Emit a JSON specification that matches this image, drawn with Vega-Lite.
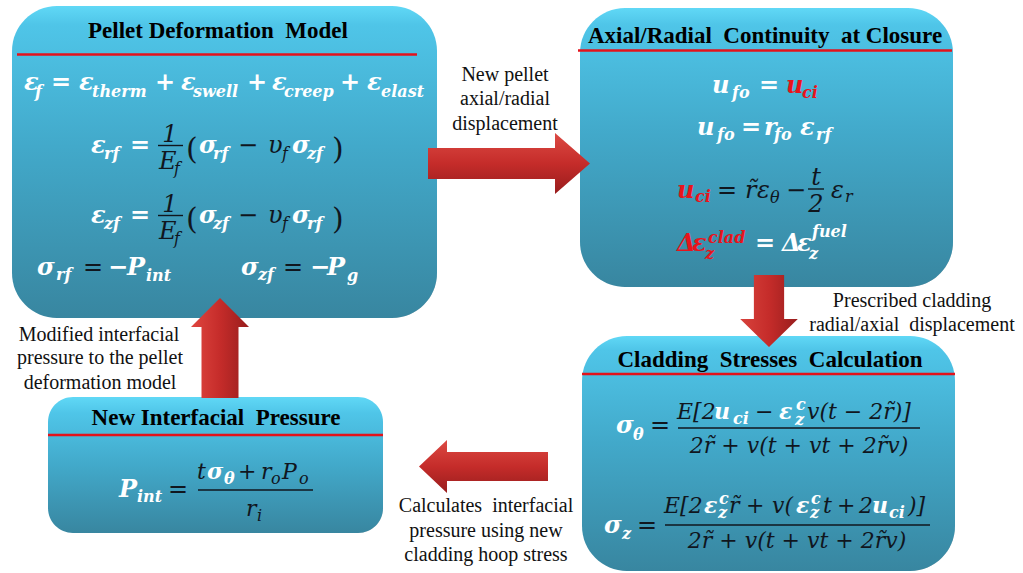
{
"$schema":"https://vega.github.io/schema/vega-lite/v6.json",
"width":1023,"height":573,"padding":0,"autosize":{"type":"none"},
"background":"white",
"config":{"view":{"stroke":null}},
"datasets":{
"boxes":[
{"x":12,"x2":437,"y":6,"y2":318,"k":"big"},
{"x":580,"x2":953,"y":8,"y2":287,"k":"big"},
{"x":582,"x2":955,"y":336,"y2":571,"k":"big"},
{"x":48,"x2":383,"y":397,"y2":533,"k":"small"}
],
"lines":[
{"x":17,"x2":417,"y":54.5,"k":"red"},
{"x":578,"x2":952,"y":50.5,"k":"red"},
{"x":582,"x2":955,"y":374,"k":"red"},
{"x":48,"x2":383,"y":435,"k":"red"},
{"x":158,"x2":183,"y":145.5,"k":"frac"},
{"x":158,"x2":183,"y":215.5,"k":"frac"},
{"x":808,"x2":824,"y":189,"k":"frac"},
{"x":678,"x2":920,"y":428,"k":"frac"},
{"x":665,"x2":930,"y":525,"k":"frac"},
{"x":198,"x2":313,"y":490,"k":"frac"}
],
"arrows":[
{"x":509,"y":163.5,"dir":"right"},
{"x":769,"y":311,"dir":"down"},
{"x":483.5,"y":466.5,"dir":"left"},
{"x":220,"y":348,"dir":"up"}
],
"txt":[
{"x":218,"y":38,"t":"Pellet Deformation\u00a0 Model","s":"title"},
{"x":765,"y":43,"t":"Axial/Radial\u00a0 Continuity\u00a0 at Closure","s":"title"},
{"x":770,"y":367,"t":"Cladding\u00a0 Stresses\u00a0 Calculation","s":"title"},
{"x":216,"y":425,"t":"New Interfacial\u00a0 Pressure","s":"title"},
{"x":505,"y":81,"t":"New pellet","s":"label"},
{"x":505,"y":105,"t":"axial/radial","s":"label"},
{"x":505,"y":130,"t":"displacement","s":"label"},
{"x":99,"y":341,"t":"Modified interfacial","s":"label"},
{"x":100,"y":364,"t":"pressure to the pellet","s":"label"},
{"x":100,"y":389,"t":"deformation model","s":"label"},
{"x":912,"y":307,"t":"Prescribed cladding","s":"label"},
{"x":912,"y":331,"t":"radial/axial\u00a0 displacement","s":"label"},
{"x":486,"y":512,"t":"Calculates\u00a0 interfacial","s":"label"},
{"x":486,"y":537,"t":"pressure using new","s":"label"},
{"x":486,"y":561,"t":"cladding hoop stress","s":"label"},

{"x":24,"y":90,"t":"ε","s":"mw"},{"x":35,"y":97,"t":"f","s":"sw"},
{"x":51,"y":90,"t":"=","s":"mw"},
{"x":79,"y":90,"t":"ε","s":"mw"},{"x":92,"y":97,"t":"therm","s":"sw"},
{"x":155,"y":90,"t":"+","s":"mw"},
{"x":181,"y":90,"t":"ε","s":"mw"},{"x":193,"y":97,"t":"swell","s":"sw"},
{"x":247,"y":90,"t":"+","s":"mw"},
{"x":272,"y":90,"t":"ε","s":"mw"},{"x":284,"y":97,"t":"creep","s":"sw"},
{"x":340,"y":90,"t":"+","s":"mw"},
{"x":367,"y":90,"t":"ε","s":"mw"},{"x":381,"y":97,"t":"elast","s":"sw"},

{"x":91,"y":153,"t":"ε","s":"mw"},{"x":104,"y":159,"t":"rf","s":"sw"},
{"x":130,"y":153,"t":"=","s":"mw"},
{"x":170,"y":142,"t":"1","s":"mdc"},
{"x":159,"y":169,"t":"E","s":"md"},{"x":174,"y":174,"t":"f","s":"sd"},
{"x":186,"y":159,"t":"(","s":"pd"},
{"x":199,"y":153,"t":"σ","s":"mw"},{"x":213,"y":159,"t":"rf","s":"sw"},
{"x":238,"y":153,"t":"−","s":"md"},
{"x":268,"y":153,"t":"υ","s":"md"},{"x":282,"y":159,"t":"f","s":"sd"},
{"x":292,"y":153,"t":"σ","s":"mw"},{"x":307,"y":159,"t":"zf","s":"sw"},
{"x":332,"y":159,"t":")","s":"pd"},

{"x":91,"y":223,"t":"ε","s":"mw"},{"x":104,"y":229,"t":"zf","s":"sw"},
{"x":130,"y":223,"t":"=","s":"mw"},
{"x":170,"y":212,"t":"1","s":"mdc"},
{"x":159,"y":239,"t":"E","s":"md"},{"x":174,"y":244,"t":"f","s":"sd"},
{"x":186,"y":229,"t":"(","s":"pd"},
{"x":199,"y":223,"t":"σ","s":"mw"},{"x":213,"y":229,"t":"zf","s":"sw"},
{"x":238,"y":223,"t":"−","s":"md"},
{"x":268,"y":223,"t":"υ","s":"md"},{"x":282,"y":229,"t":"f","s":"sd"},
{"x":292,"y":223,"t":"σ","s":"mw"},{"x":307,"y":229,"t":"rf","s":"sw"},
{"x":332,"y":229,"t":")","s":"pd"},

{"x":37,"y":275,"t":"σ","s":"mw"},{"x":56,"y":280,"t":"rf","s":"sw"},
{"x":83,"y":275,"t":"=","s":"md"},
{"x":108,"y":275,"t":"−","s":"mw"},
{"x":127,"y":275,"t":"P","s":"mw"},{"x":146,"y":281,"t":"int","s":"sw"},
{"x":241,"y":275,"t":"σ","s":"mw"},{"x":258,"y":280,"t":"zf","s":"sw"},
{"x":283,"y":275,"t":"=","s":"md"},
{"x":310,"y":275,"t":"−","s":"mw"},
{"x":327,"y":275,"t":"P","s":"mw"},{"x":347,"y":281,"t":"g","s":"sw"},

{"x":712,"y":93,"t":"u","s":"mw"},{"x":732,"y":98,"t":"fo","s":"sw"},
{"x":759,"y":93,"t":"=","s":"mw"},
{"x":786,"y":93,"t":"u","s":"mr"},{"x":802,"y":98,"t":"ci","s":"sr"},

{"x":697,"y":135,"t":"u","s":"mw"},{"x":717,"y":140,"t":"fo","s":"sw"},
{"x":741,"y":135,"t":"=","s":"mw"},
{"x":764,"y":135,"t":"r","s":"mw"},{"x":774,"y":140,"t":"fo","s":"sw"},
{"x":800,"y":135,"t":"ε","s":"mw"},{"x":816,"y":140,"t":"rf","s":"sw"},

{"x":677,"y":198,"t":"u","s":"mr"},{"x":695,"y":202,"t":"ci","s":"sr"},
{"x":717,"y":198,"t":"=","s":"md"},
{"x":745,"y":198,"t":"r̃","s":"md"},
{"x":757,"y":198,"t":"ε","s":"md"},{"x":770,"y":203,"t":"θ","s":"sd"},
{"x":786,"y":198,"t":"−","s":"md"},
{"x":816,"y":185,"t":"t","s":"mdc"},
{"x":816,"y":212,"t":"2","s":"mdc"},
{"x":831,"y":198,"t":"ε","s":"md"},{"x":845,"y":202,"t":"r","s":"sd"},

{"x":677,"y":251,"t":"Δ","s":"mr"},{"x":692,"y":251,"t":"ε","s":"mr"},
{"x":705,"y":259,"t":"z","s":"sr"},{"x":708,"y":243,"t":"clad","s":"sr"},
{"x":755,"y":251,"t":"=","s":"mw"},
{"x":782,"y":251,"t":"Δ","s":"mw"},{"x":797,"y":251,"t":"ε","s":"mw"},
{"x":809,"y":259,"t":"z","s":"sw"},{"x":812,"y":237,"t":"fuel","s":"sw"},

{"x":616,"y":433,"t":"σ","s":"mw"},{"x":633,"y":440,"t":"θ","s":"sw"},
{"x":650,"y":433,"t":"=","s":"md"},
{"x":677,"y":419,"t":"E[2","s":"nd"},
{"x":714,"y":419,"t":"u","s":"nw"},{"x":733,"y":424,"t":"ci","s":"sw"},
{"x":755,"y":419,"t":"−","s":"nd"},
{"x":779,"y":419,"t":"ε","s":"nw"},{"x":796,"y":410,"t":"c","s":"sw"},{"x":795,"y":425,"t":"z","s":"sw"},
{"x":807,"y":419,"t":"v(t − 2r̃)]","s":"nd"},
{"x":799,"y":453,"t":"2r̃ + v(t + vt + 2r̃v)","s":"ndc"},

{"x":604,"y":533,"t":"σ","s":"mw"},{"x":622,"y":539,"t":"z","s":"sw"},
{"x":637,"y":533,"t":"=","s":"md"},
{"x":664,"y":513,"t":"E[2","s":"nd"},
{"x":704,"y":513,"t":"ε","s":"nw"},{"x":719,"y":504,"t":"c","s":"sw"},{"x":718,"y":518,"t":"z","s":"sw"},
{"x":729,"y":513,"t":"r̃","s":"nd"},
{"x":746,"y":513,"t":"+","s":"nd"},
{"x":772,"y":513,"t":"v(","s":"nd"},
{"x":796,"y":513,"t":"ε","s":"nw"},{"x":811,"y":504,"t":"c","s":"sw"},{"x":810,"y":518,"t":"z","s":"sw"},
{"x":823,"y":513,"t":"t","s":"nd"},
{"x":837,"y":513,"t":"+","s":"nd"},
{"x":859,"y":513,"t":"2","s":"nd"},
{"x":872,"y":513,"t":"u","s":"nw"},{"x":889,"y":518,"t":"ci","s":"sw"},
{"x":908,"y":513,"t":")]","s":"nd"},
{"x":797,"y":548,"t":"2r̃ + v(t + vt + 2r̃v)","s":"ndc"},

{"x":119,"y":497,"t":"P","s":"mw"},{"x":137,"y":502,"t":"int","s":"sw"},
{"x":168,"y":497,"t":"=","s":"md"},
{"x":197,"y":479,"t":"t","s":"nd"},
{"x":207,"y":479,"t":"σ","s":"nw"},{"x":224,"y":484,"t":"θ","s":"sw"},
{"x":238,"y":479,"t":"+","s":"nd"},
{"x":261,"y":479,"t":"r","s":"nd"},{"x":271,"y":484,"t":"o","s":"sd"},
{"x":282,"y":479,"t":"P","s":"nd"},{"x":299,"y":484,"t":"o","s":"sd"},
{"x":246,"y":516,"t":"r","s":"nd"},{"x":257,"y":521,"t":"i","s":"sd"}
]
},
"encoding":{
"x":{"field":"x","type":"quantitative","scale":{"domain":[0,1023],"nice":false,"zero":false},"axis":null},
"y":{"field":"y","type":"quantitative","scale":{"domain":[0,573],"nice":false,"zero":false,"reverse":true},"axis":null}
},
"layer":[
{"data":{"name":"boxes"},"transform":[{"filter":"datum.k==='big'"}],
 "mark":{"type":"rect","cornerRadius":45,"xOffset":4,"yOffset":5,"color":"#4a4a4a","opacity":0.3},
 "encoding":{"x2":{"field":"x2"},"y2":{"field":"y2"}}},
{"data":{"name":"boxes"},"transform":[{"filter":"datum.k==='small'"}],
 "mark":{"type":"rect","cornerRadius":25,"xOffset":4,"yOffset":5,"color":"#4a4a4a","opacity":0.3},
 "encoding":{"x2":{"field":"x2"},"y2":{"field":"y2"}}},
{"data":{"name":"boxes"},"transform":[{"filter":"datum.k==='big'"}],
 "mark":{"type":"rect","cornerRadius":45,"opacity":1,
  "color":{"gradient":"linear","x1":0,"y1":0,"x2":0,"y2":1,"stops":[{"offset":0,"color":"#60d8f6"},{"offset":0.06,"color":"#4fc5e8"},{"offset":0.45,"color":"#42a9ca"},{"offset":1,"color":"#3886a0"}]}},
 "encoding":{"x2":{"field":"x2"},"y2":{"field":"y2"}}},
{"data":{"name":"boxes"},"transform":[{"filter":"datum.k==='small'"}],
 "mark":{"type":"rect","cornerRadius":25,"opacity":1,
  "color":{"gradient":"linear","x1":0,"y1":0,"x2":0,"y2":1,"stops":[{"offset":0,"color":"#60d8f6"},{"offset":0.12,"color":"#4fc5e8"},{"offset":0.5,"color":"#42a9ca"},{"offset":1,"color":"#3886a0"}]}},
 "encoding":{"x2":{"field":"x2"},"y2":{"field":"y2"}}},
{"data":{"name":"lines"},"transform":[{"filter":"datum.k==='red'"}],
 "mark":{"type":"rule","color":"#e3121b","strokeWidth":2.5},
 "encoding":{"x2":{"field":"x2"}}},
{"data":{"name":"arrows"},"transform":[{"filter":"datum.dir==='right'"}],
 "mark":{"type":"point","filled":true,"opacity":1,"strokeWidth":0,"size":26244,
  "shape":"M-1,-0.19L0.568,-0.19L0.568,-0.377L1,0L0.568,0.377L0.568,0.19L-1,0.19Z",
  "color":{"gradient":"linear","x1":0,"y1":0,"x2":0,"y2":1,"stops":[{"offset":0,"color":"#dc4a43"},{"offset":0.5,"color":"#c52c2a"},{"offset":1,"color":"#981d1d"}]}}},
{"data":{"name":"arrows"},"transform":[{"filter":"datum.dir==='left'"}],
 "mark":{"type":"point","filled":true,"opacity":1,"strokeWidth":0,"size":16641,
  "shape":"M1,-0.225L-0.566,-0.225L-0.566,-0.41L-1,0L-0.566,0.41L-0.566,0.225L1,0.225Z",
  "color":{"gradient":"linear","x1":0,"y1":0,"x2":0,"y2":1,"stops":[{"offset":0,"color":"#dc4a43"},{"offset":0.5,"color":"#c52c2a"},{"offset":1,"color":"#981d1d"}]}}},
{"data":{"name":"arrows"},"transform":[{"filter":"datum.dir==='down'"}],
 "mark":{"type":"point","filled":true,"opacity":1,"strokeWidth":0,"size":5184,
  "shape":"M-0.42,-1L0.42,-1L0.42,0.22L0.8,0.22L0,1L-0.8,0.22L-0.42,0.22Z",
  "color":{"gradient":"linear","x1":0,"y1":0,"x2":1,"y2":0,"stops":[{"offset":0,"color":"#d8423c"},{"offset":0.5,"color":"#c52c2a"},{"offset":1,"color":"#981d1d"}]}}},
{"data":{"name":"arrows"},"transform":[{"filter":"datum.dir==='up'"}],
 "mark":{"type":"point","filled":true,"opacity":1,"strokeWidth":0,"size":10000,
  "shape":"M-0.37,1L-0.37,-0.42L-0.58,-0.42L0,-1L0.58,-0.42L0.37,-0.42L0.37,1Z",
  "color":{"gradient":"linear","x1":0,"y1":0,"x2":1,"y2":0,"stops":[{"offset":0,"color":"#e0463f"},{"offset":0.5,"color":"#c52c2a"},{"offset":1,"color":"#981d1d"}]}}},
{"data":{"name":"lines"},"transform":[{"filter":"datum.k==='frac'"}],
 "mark":{"type":"rule","color":"#10161e","strokeWidth":1.4},
 "encoding":{"x2":{"field":"x2"}}},
{"data":{"name":"txt"},"transform":[{"filter":"datum.s==='title'"}],
 "mark":{"type":"text","align":"center","baseline":"alphabetic","font":"Liberation Serif","fontSize":23,"fontWeight":"bold","color":"#000000"},
 "encoding":{"text":{"field":"t"}}},
{"data":{"name":"txt"},"transform":[{"filter":"datum.s==='label'"}],
 "mark":{"type":"text","align":"center","baseline":"alphabetic","font":"Liberation Serif","fontSize":20,"color":"#111111"},
 "encoding":{"text":{"field":"t"}}},
{"data":{"name":"txt"},"transform":[{"filter":"datum.s==='mw'"}],
 "mark":{"type":"text","align":"left","baseline":"alphabetic","font":"DejaVu Serif","fontSize":24,"fontStyle":"italic","fontWeight":"bold","color":"#ffffff"},
 "encoding":{"text":{"field":"t"}}},
{"data":{"name":"txt"},"transform":[{"filter":"datum.s==='mr'"}],
 "mark":{"type":"text","align":"left","baseline":"alphabetic","font":"DejaVu Serif","fontSize":24,"fontStyle":"italic","fontWeight":"bold","color":"#e8141c"},
 "encoding":{"text":{"field":"t"}}},
{"data":{"name":"txt"},"transform":[{"filter":"datum.s==='md'"}],
 "mark":{"type":"text","align":"left","baseline":"alphabetic","font":"DejaVu Serif","fontSize":24,"fontStyle":"italic","color":"#10161e"},
 "encoding":{"text":{"field":"t"}}},
{"data":{"name":"txt"},"transform":[{"filter":"datum.s==='mdc'"}],
 "mark":{"type":"text","align":"center","baseline":"alphabetic","font":"DejaVu Serif","fontSize":24,"fontStyle":"italic","color":"#10161e"},
 "encoding":{"text":{"field":"t"}}},
{"data":{"name":"txt"},"transform":[{"filter":"datum.s==='pd'"}],
 "mark":{"type":"text","align":"left","baseline":"alphabetic","font":"DejaVu Serif","fontSize":30,"color":"#10161e"},
 "encoding":{"text":{"field":"t"}}},
{"data":{"name":"txt"},"transform":[{"filter":"datum.s==='sw'"}],
 "mark":{"type":"text","align":"left","baseline":"alphabetic","font":"DejaVu Serif","fontSize":16,"fontStyle":"italic","fontWeight":"bold","color":"#ffffff"},
 "encoding":{"text":{"field":"t"}}},
{"data":{"name":"txt"},"transform":[{"filter":"datum.s==='sr'"}],
 "mark":{"type":"text","align":"left","baseline":"alphabetic","font":"DejaVu Serif","fontSize":16,"fontStyle":"italic","fontWeight":"bold","color":"#e8141c"},
 "encoding":{"text":{"field":"t"}}},
{"data":{"name":"txt"},"transform":[{"filter":"datum.s==='sd'"}],
 "mark":{"type":"text","align":"left","baseline":"alphabetic","font":"DejaVu Serif","fontSize":16,"fontStyle":"italic","color":"#10161e"},
 "encoding":{"text":{"field":"t"}}},
{"data":{"name":"txt"},"transform":[{"filter":"datum.s==='nw'"}],
 "mark":{"type":"text","align":"left","baseline":"alphabetic","font":"DejaVu Serif","fontSize":22,"fontStyle":"italic","fontWeight":"bold","color":"#ffffff"},
 "encoding":{"text":{"field":"t"}}},
{"data":{"name":"txt"},"transform":[{"filter":"datum.s==='nd'"}],
 "mark":{"type":"text","align":"left","baseline":"alphabetic","font":"DejaVu Serif","fontSize":22,"fontStyle":"italic","color":"#10161e"},
 "encoding":{"text":{"field":"t"}}},
{"data":{"name":"txt"},"transform":[{"filter":"datum.s==='ndc'"}],
 "mark":{"type":"text","align":"center","baseline":"alphabetic","font":"DejaVu Serif","fontSize":22,"fontStyle":"italic","color":"#10161e"},
 "encoding":{"text":{"field":"t"}}}
]
}
